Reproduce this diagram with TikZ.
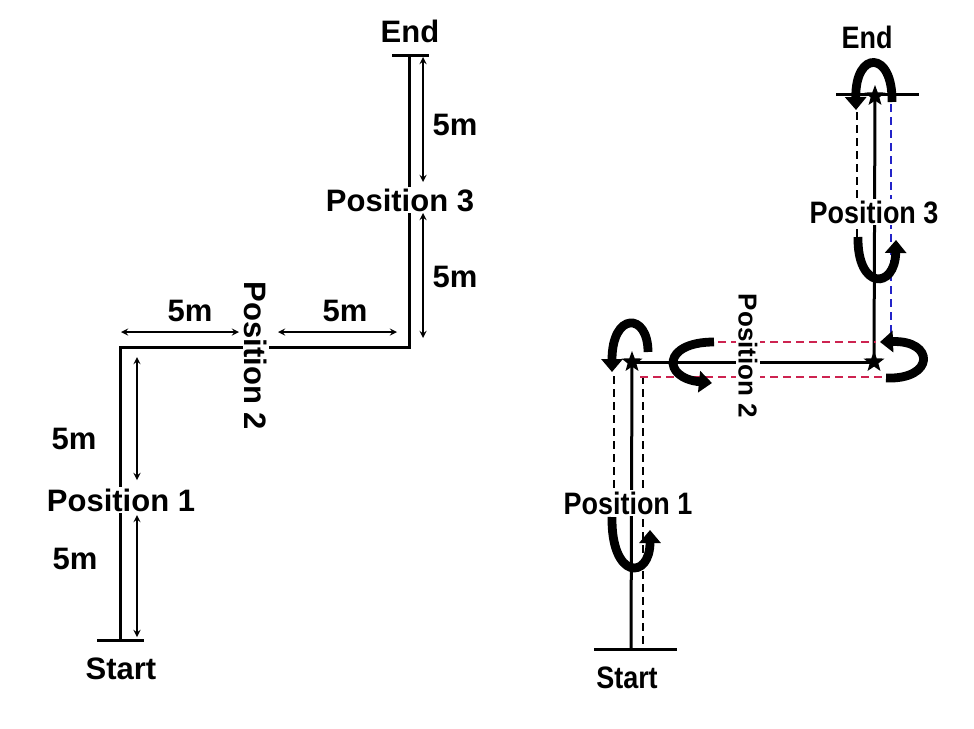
\documentclass[tikz,border=0pt]{standalone}
\usepackage{fontspec}
\setmainfont{Liberation Sans}
\usepackage{xcolor}
\usetikzlibrary{arrows.meta, shapes.geometric}
\definecolor{dashred}{RGB}{205,35,80}
\definecolor{dashblue}{RGB}{35,35,200}
\newcommand{\squeezed}[1]{\scalebox{0.87}[1]{#1}}

\begin{document}
\begin{tikzpicture}[x=0.5pt, y=-0.5pt,
    track/.style={line width=1.5pt, line cap=rect},
    dim/.style={<->, >=stealth, line width=0.6pt},
    txt/.style={font=\bfseries\fontsize{15.5}{18}\selectfont, inner sep=1pt},
    txtr/.style={font=\bfseries\fontsize{13}{16}\selectfont, inner sep=1pt},
    posn/.style={txt, fill=white},
    posnr/.style={txtr, fill=white},
    trace/.style={line width=1.1pt, dash pattern=on 4pt off 2.5pt},
    turn/.style={line width=4.4pt, -{Triangle[length=6.5pt,width=10.5pt]}},
    starmark/.style={star, star points=5, star point ratio=2.4, fill=black, minimum size=11pt, inner sep=0pt}]

    \useasboundingbox (0,0) rectangle (974,728);

    % Left route
    \coordinate (LS) at (120,640);
    \coordinate (LSa) at (98,640);
    \coordinate (LSb) at (142,640);
    \coordinate (LC1) at (120,347);
    \coordinate (LC2) at (409,347);
    \coordinate (LE) at (409,55);
    \coordinate (LEa) at (393,55);
    \coordinate (LEb) at (427,55);
    \draw[track] (LS) -- (LC1);
    \draw[track] (LC1) -- (LC2);
    \draw[track] (LC2) -- (LE);
    \draw[track] (LSa) -- (LSb);
    \draw[track] (LEa) -- (LEb);

    % Dimension arrows
    \coordinate (d1a) at (137,637); \coordinate (d1b) at (137,515);
    \coordinate (d2a) at (137,480); \coordinate (d2b) at (137,357);
    \coordinate (d3a) at (121,332); \coordinate (d3b) at (239,332);
    \coordinate (d4a) at (278,332); \coordinate (d4b) at (397,332);
    \coordinate (d5a) at (423,338); \coordinate (d5b) at (423,213);
    \coordinate (d6a) at (423,182); \coordinate (d6b) at (423,57);
    \draw[dim] (d1a) -- (d1b);
    \draw[dim] (d2a) -- (d2b);
    \draw[dim] (d3a) -- (d3b);
    \draw[dim] (d4a) -- (d4b);
    \draw[dim] (d5a) -- (d5b);
    \draw[dim] (d6a) -- (d6b);

    % Left labels
    \node[txt] (lstart) at (121,669) {Start};
    \node[txt] (lend) at (410,31) {End};
    \node[posn] (lpos1) at (121,500) {Position 1};
    \node[posn, rotate=-90] (lpos2) at (256,356) {Position 2};
    \node[posn] (lpos3) at (400,200) {Position 3};
    \node[txt] (m1) at (75,559) {5m};
    \node[txt] (m2) at (74,439) {5m};
    \node[txt] (m3) at (190,311) {5m};
    \node[txt] (m4) at (345,311) {5m};
    \node[txt] (m5) at (455,277) {5m};
    \node[txt] (m6) at (455,125) {5m};

    % Right route
    \coordinate (RS) at (631,649);
    \coordinate (RSa) at (595,649);
    \coordinate (RSb) at (675,649);
    \coordinate (RA) at (632,362);
    \coordinate (RB) at (874,362);
    \coordinate (RE) at (875,96);
    \coordinate (REa) at (837,94);
    \coordinate (REb) at (917,94);
    \draw[track] (RS) -- (RA);
    \draw[track] (RA) -- (RB);
    \draw[track] (RB) -- (RE);
    \draw[track] (RSa) -- (RSb);
    \draw[track] (REa) -- (REb);

    % Traced paths
    \coordinate (t1a) at (614,376); \coordinate (t1b) at (614,495);
    \coordinate (t2a) at (643,376); \coordinate (t2b) at (643,649);
    \coordinate (t3a) at (640,377); \coordinate (t3b) at (884,377);
    \coordinate (t4a) at (718,342); \coordinate (t4b) at (876,342);
    \coordinate (t5a) at (891,104); \coordinate (t5b) at (891,334);
    \coordinate (t6a) at (857,112); \coordinate (t6b) at (857,238);
    \draw[trace] (t1a) -- (t1b);
    \draw[trace] (t2a) -- (t2b);
    \draw[trace, dashred] (t3a) -- (t3b);
    \draw[trace, dashred] (t4a) -- (t4b);
    \draw[trace, dashblue] (t5a) -- (t5b);
    \draw[trace] (t6a) -- (t6b);

    % Right labels
    \node[posn] (rstart) at (627,678) {\squeezed{Start}};
    \node[posn] (rend) at (867,37) {\squeezed{End}};
    \node[posn] (rpos1) at (628,503) {\squeezed{Position 1}};
    \node[posnr, rotate=-90] (rpos2) at (748,356) {Position 2};
    \node[posn] (rpos3) at (874,212) {\squeezed{Position 3}};

    % Turns
    \draw[turn] (892,102) .. controls (893,50) and (855,50) .. (856,110);
    \draw[turn] (858,237) .. controls (857,290) and (895,290) .. (896,240);
    \draw[turn] (886,378) .. controls (935,380) and (935,340) .. (880,342);
    \draw[turn] (714,342) .. controls (662,342) and (662,378) .. (712,383);
    \draw[turn] (648,352) .. controls (648,312) and (612,312) .. (612,372);
    \draw[turn] (612,517) .. controls (611,580) and (650,580) .. (650,530);

    % Stars
    \node[starmark] (sa) at (RA) {};
    \node[starmark] (sb) at (RB) {};
    \node[starmark] (se) at (RE) {};
\end{tikzpicture}
\end{document}
